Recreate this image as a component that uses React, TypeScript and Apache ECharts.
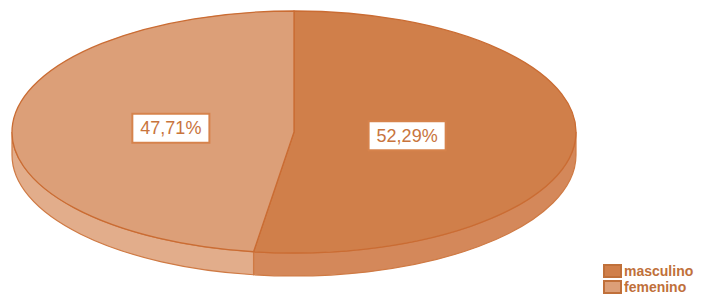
import React, { useEffect, useRef } from "react";
import * as echarts from "echarts";

const categories = ["masculino", "femenino"];
const values = [52.29, 47.71];
const topColors = ["#D07F4A", "#DC9F78"];
const sideColors = ["#D4885A", "#E2AD8B"];

const CX = 294;
const CY = 132;
const RX = 282;
const RY = 121;
const DEPTH = 23;
const LABEL_K = 0.42;

function pt(deg: number, dy = 0): [number, number] {
  const r = (deg * Math.PI) / 180;
  return [CX + RX * Math.sin(r), CY - RY * Math.cos(r) + dy];
}

function f(p: [number, number]) {
  return `${p[0].toFixed(2)} ${p[1].toFixed(2)}`;
}

export default function App() {
  const ref = useRef<HTMLDivElement>(null);
  useEffect(() => {
    if (!ref.current) return;
    const chart = echarts.init(ref.current, null, { renderer: "svg" });
    const total = values.reduce((a, b) => a + b, 0);
    const starts: number[] = [];
    let acc = 0;
    values.forEach((v) => {
      starts.push(acc);
      acc += v;
    });

    const series = categories.map((name, i) => {
      const a0 = (starts[i] / total) * 360;
      const a1 = ((starts[i] + values[i]) / total) * 360;
      return {
        type: "custom",
        name,
        coordinateSystem: "none",
        itemStyle: { color: topColors[i], borderColor: "#C0703A", borderWidth: 1 },
        data: [[values[i]]],
        renderItem: () => {
          const children: any[] = [];
          const s0 = Math.max(a0, 90);
          const s1 = Math.min(a1, 270);
          if (s1 > s0) {
            const large = s1 - s0 > 180 ? 1 : 0;
            const d =
              `M ${f(pt(s0))} A ${RX} ${RY} 0 ${large} 1 ${f(pt(s1))} ` +
              `L ${f(pt(s1, DEPTH))} A ${RX} ${RY} 0 ${large} 0 ${f(pt(s0, DEPTH))} Z`;
            children.push({
              type: "path",
              shape: { pathData: d },
              style: { fill: sideColors[i], stroke: "#CF7A44", lineWidth: 1.2 },
            });
          }
          const large = a1 - a0 > 180 ? 1 : 0;
          const dTop = `M ${CX} ${CY} L ${f(pt(a0))} A ${RX} ${RY} 0 ${large} 1 ${f(pt(a1))} Z`;
          children.push({
            type: "path",
            shape: { pathData: dTop },
            style: { fill: topColors[i], stroke: "#CA6C33", lineWidth: 1.3, lineJoin: "round" },
          });
          const mid = (a0 + a1) / 2;
          const mr = (mid * Math.PI) / 180;
          const lx = CX - 5 + RX * LABEL_K * Math.sin(mr);
          const ly = CY - RY * LABEL_K * Math.cos(mr);
          const pct = ((values[i] / total) * 100).toFixed(2).replace(".", ",") + "%";
          children.push({
            type: "text",
            x: lx,
            y: ly,
            style: {
              text: pct,
              align: "center",
              verticalAlign: "middle",
              fill: "#C8743D",
              font: "18px 'Liberation Sans', Arial, sans-serif",
              backgroundColor: "#FFFFFF",
              borderColor: "#D6834C",
              borderWidth: 2,
              padding: [5, 7, 4, 7],
            },
          });
          return { type: "group", children };
        },
      };
    });

    const legends = categories.map((name, i) => ({
      data: [name],
      orient: "vertical",
      left: 603,
      top: 264 + i * 16,
      icon: "rect",
      itemWidth: 17,
      itemHeight: 12,
      padding: 0,
      selectedMode: false,
      textStyle: {
        color: "#C0703A",
        fontSize: 14,
        fontWeight: "bold",
        fontFamily: "'Liberation Sans', Arial, sans-serif",
        padding: [0, 0, 0, -2],
      },
    }));

    chart.setOption({
      animation: false,
      legend: legends,
      series,
    });
    return () => chart.dispose();
  }, []);
  return (
    <div
      ref={ref}
      style={{ position: "fixed", left: 0, top: 0, width: 707, height: 295, background: "#fff" }}
    />
  );
}
